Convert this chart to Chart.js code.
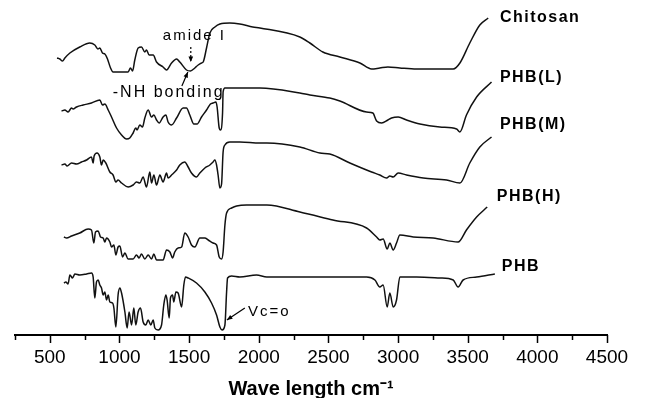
<!DOCTYPE html>
<html>
<head>
<meta charset="utf-8">
<script src="https://cdn.jsdelivr.net/npm/chart.js@4"></script>
<style>
  html, body { margin: 0; padding: 0; background: #fff; }
  #wrap { width: 645px; height: 398px; }
</style>
</head>
<body>
<div id="wrap"><canvas id="Chart"></canvas></div>
<script>
// * FTIR spectra, wavenumber (cm-1) vs offset transmittance (a.u.)

// * Chitosan
const chitosanWave = [552, 572, 591, 608, 644, 715, 787, 823, 845, 859, 878, 895, 914, 936, 954, 1003, 1062, 1079, 1094, 1110, 1134, 1158, 1182, 1194, 1213, 1242, 1266, 1313, 1338, 1374, 1410, 1433, 1481, 1510, 1541, 1565, 1589, 1601, 1625, 1649, 1685, 1721, 1792, 1864, 1957, 2008, 2295, 2367, 2460, 2582, 2726, 2810, 2869, 2927, 3013, 3133, 3396, 3444, 3515, 3587, 3647]
const chitosanT = [277, 276, 274, 277, 282, 288, 292, 290, 286, 287, 282, 281, 276, 267, 263, 263, 263, 267, 264, 275, 287, 288, 283, 285, 280, 280, 273, 268, 265, 272, 276, 273, 265, 264, 267, 270, 272, 273, 287, 302, 308, 311, 312, 311, 308, 307, 298, 292, 283, 278, 272, 266, 267, 268, 267, 266, 266, 272, 292, 310, 317]

// * PHB(L)
const phbLWave = [584, 608, 631, 656, 667, 692, 739, 799, 859, 878, 895, 919, 943, 979, 1015, 1051, 1074, 1098, 1117, 1126, 1146, 1165, 1182, 1206, 1230, 1247, 1266, 1285, 1313, 1333, 1349, 1374, 1410, 1457, 1481, 1505, 1534, 1557, 1589, 1625, 1653, 1672, 1692, 1701, 1716, 1726, 1740, 1744, 1757, 1864, 2008, 2295, 2367, 2510, 2582, 2774, 2819, 2846, 2882, 2927, 2953, 3001, 3061, 3157, 3300, 3420, 3444, 3491, 3564, 3671]
const phbLT = [224, 225, 223, 227, 226, 228, 230, 232, 235, 230, 231, 225, 218, 207, 200, 196, 197, 202, 207, 205, 210, 208, 217, 225, 218, 220, 215, 212, 218, 220, 213, 210, 217, 227, 227, 220, 211, 211, 218, 225, 231, 232, 233, 228, 207, 205, 222, 243, 247, 247, 247, 242, 240, 237, 234, 223, 222, 214, 212, 215, 217, 218, 215, 211, 208, 206, 203, 220, 238, 253]

// * PHB(M)
const phbMWave = [584, 608, 624, 656, 692, 728, 764, 799, 811, 818, 839, 859, 871, 883, 902, 931, 954, 974, 990, 1015, 1062, 1098, 1122, 1146, 1170, 1194, 1218, 1230, 1247, 1266, 1290, 1313, 1338, 1349, 1374, 1410, 1433, 1469, 1493, 1517, 1553, 1577, 1613, 1649, 1672, 1685, 1697, 1708, 1721, 1733, 1744, 1757, 1792, 1864, 2008, 2058, 2295, 2439, 2510, 2654, 2810, 2869, 2918, 2941, 2965, 3001, 3061, 3181, 3348, 3444, 3515, 3587, 3671]
const phbMT = [170, 171, 169, 172, 171, 173, 175, 178, 172, 179, 182, 178, 170, 175, 172, 163, 160, 153, 155, 152, 148, 150, 153, 152, 158, 148, 163, 152, 160, 150, 160, 153, 162, 157, 160, 165, 170, 173, 168, 162, 158, 162, 167, 170, 173, 175, 170, 160, 147, 151, 183, 190, 193, 193, 192, 192, 188, 182, 181, 172, 163, 160, 157, 159, 158, 162, 160, 157, 155, 152, 172, 188, 198]

// * PHB(H)
const phbHWave = [601, 620, 656, 715, 775, 799, 816, 828, 847, 864, 883, 895, 907, 931, 943, 960, 974, 990, 1003, 1022, 1039, 1062, 1098, 1122, 1141, 1158, 1182, 1206, 1230, 1247, 1266, 1313, 1338, 1362, 1381, 1397, 1421, 1446, 1469, 1493, 1517, 1541, 1577, 1613, 1637, 1672, 1697, 1716, 1733, 1744, 1757, 1769, 1805, 1841, 1912, 2008, 2058, 2295, 2532, 2774, 2846, 2869, 2893, 2922, 2941, 2965, 2989, 3013, 3109, 3252, 3431, 3491, 3564, 3640]
const phbHT = [98, 97, 99, 102, 106, 105, 92, 103, 104, 98, 97, 93, 97, 93, 88, 90, 80, 88, 89, 78, 82, 76, 76, 80, 77, 81, 76, 80, 76, 81, 75, 75, 85, 83, 77, 83, 87, 88, 102, 98, 90, 88, 97, 97, 95, 92, 90, 78, 76, 83, 110, 122, 127, 129, 130, 130, 130, 123, 115, 107, 98, 95, 96, 86, 92, 85, 92, 100, 98, 97, 93, 105, 118, 128]

// * PHB
const phbWave = [601, 615, 631, 644, 663, 680, 715, 764, 799, 811, 823, 835, 847, 859, 871, 883, 895, 907, 919, 931, 950, 960, 974, 990, 1003, 1015, 1039, 1055, 1069, 1087, 1103, 1117, 1134, 1151, 1170, 1189, 1206, 1225, 1242, 1254, 1277, 1302, 1318, 1333, 1342, 1357, 1366, 1381, 1390, 1405, 1421, 1446, 1462, 1474, 1493, 1553, 1613, 1661, 1697, 1721, 1737, 1757, 1769, 1776, 1805, 1864, 1984, 2058, 2295, 2774, 2834, 2869, 2893, 2922, 2941, 2965, 2989, 3013, 3133, 3300, 3396, 3431, 3467, 3564, 3695]
const phbT = [52, 53, 51, 60, 57, 61, 60, 61, 62, 58, 37, 53, 55, 50, 47, 40, 43, 35, 40, 33, 32, 27, 8, 40, 47, 42, 23, 7, 23, 10, 27, 10, 23, 27, 13, 10, 15, 10, 15, 7, 5, 10, 30, 40, 35, 17, 37, 40, 33, 43, 42, 28, 50, 58, 57, 52, 43, 32, 20, 8, 5, 10, 43, 57, 59, 58, 60, 58, 58, 58, 55, 48, 50, 28, 42, 28, 35, 58, 58, 57, 55, 48, 55, 58, 61]

// * Tick labels on the wavenumber axis
const waveTicks = [500, 1000, 1500, 2000, 2500, 3000, 3500, 4000, 4500]

// * Text beside the curves (wavenumber, transmittance)
const curveLabels = [
    { text: 'Chitosan', x: 3731, y: 317 },
    { text: 'PHB(L)', x: 3731, y: 257 },
    { text: 'PHB(M)', x: 3731, y: 210 },
    { text: 'PHB(H)', x: 3709, y: 138 },
    { text: 'PHB', x: 3745, y: 68 },
]

const notes = [
    { text: 'amide I', x: 1311, y: 299, size: 15, from: [1512, 288], to: [1512, 273], dash: true },
    { text: '-NH bonding', x: 952, y: 242, size: 16, from: [1448, 249], to: [1491, 263], dash: false },
    { text: 'Vc=o', x: 1922, y: 23, size: 15, from: [1900, 27], to: [1771, 15], dash: false },
]

const toPoints = (xs, ys) => xs.map((x, i) => ({ x: x, y: ys[i] }))

const lineStyle = {
    borderColor: '#111',
    borderWidth: 1.5,
    pointRadius: 0,
    fill: false,
    cubicInterpolationMode: 'monotone',
}

const data = {
    datasets: [
        { label: 'Chitosan', data: toPoints(chitosanWave, chitosanT), ...lineStyle },
        { label: 'PHB(L)', data: toPoints(phbLWave, phbLT), ...lineStyle },
        { label: 'PHB(M)', data: toPoints(phbMWave, phbMT), ...lineStyle },
        { label: 'PHB(H)', data: toPoints(phbHWave, phbHT), ...lineStyle },
        { label: 'PHB', data: toPoints(phbWave, phbT), ...lineStyle },
    ],
}

// * Plugin: minor / major ticks, curve names and notes
const decor = {
    id: 'decor',
    afterDraw(chart) {
        const { ctx, chartArea, scales: { x, y } } = chart
        ctx.save()
        ctx.strokeStyle = '#000'
        ctx.lineWidth = 1.5
        x.ticks.forEach(t => {
            const px = Math.round(x.getPixelForValue(t.value)) + 0.5
            const len = waveTicks.includes(t.value) ? 8 : 5
            ctx.beginPath()
            ctx.moveTo(px, chartArea.bottom)
            ctx.lineTo(px, chartArea.bottom + len)
            ctx.stroke()
        })

        ctx.fillStyle = '#000'
        ctx.textBaseline = 'middle'
        ctx.textAlign = 'left'
        ctx.font = 'bold 16px "Liberation Sans", Arial, sans-serif'
        ctx.letterSpacing = '1.5px'
        curveLabels.forEach(l => {
            ctx.fillText(l.text, x.getPixelForValue(l.x), y.getPixelForValue(l.y))
        })

        ctx.letterSpacing = '2px'
        notes.forEach(n => {
            ctx.font = n.size + 'px "Liberation Sans", Arial, sans-serif'
            ctx.fillText(n.text, x.getPixelForValue(n.x), y.getPixelForValue(n.y))
            const x0 = x.getPixelForValue(n.from[0]), y0 = y.getPixelForValue(n.from[1])
            const x1 = x.getPixelForValue(n.to[0]), y1 = y.getPixelForValue(n.to[1])
            ctx.lineWidth = 1.2
            ctx.setLineDash(n.dash ? [2, 2] : [])
            ctx.beginPath()
            ctx.moveTo(x0, y0)
            ctx.lineTo(x1, y1)
            ctx.stroke()
            ctx.setLineDash([])
            // arrow head
            const a = Math.atan2(y1 - y0, x1 - x0)
            ctx.beginPath()
            ctx.moveTo(x1, y1)
            ctx.lineTo(x1 - 6 * Math.cos(a - 0.4), y1 - 6 * Math.sin(a - 0.4))
            ctx.lineTo(x1 - 6 * Math.cos(a + 0.4), y1 - 6 * Math.sin(a + 0.4))
            ctx.closePath()
            ctx.fill()
        })
        ctx.restore()
    }
}

const config = {
    type: 'line',
    data,
    options: {
        responsive: true,
        maintainAspectRatio: false,
        animation: false,
        layout: { padding: { left: 15, right: 38, top: 0, bottom: 0 } },
        plugins: {
            legend: { display: false },
            tooltip: { enabled: false },
        },
        scales: {
            x: {
                type: 'linear',
                min: 250,
                max: 4500,
                border: { display: true, color: '#000', width: 2 },
                grid: { display: true, drawOnChartArea: false, drawTicks: true, tickLength: 8, color: 'rgba(0,0,0,0)' },
                ticks: {
                    stepSize: 250,
                    autoSkip: false,
                    maxRotation: 0,
                    padding: 3,
                    color: '#000',
                    font: { family: '"Liberation Sans", Arial, sans-serif', size: 19 },
                    callback: v => waveTicks.includes(v) ? String(v) : '',
                },
                title: {
                    display: true,
                    text: 'Wave length cm⁻¹',
                    color: '#000',
                    padding: { top: 0, bottom: 0 },
                    font: { family: '"Liberation Sans", Arial, sans-serif', size: 20, weight: 'bold', lineHeight: 0.85 },
                },
                afterFit: s => { s.height = 63 },
            },
            y: {
                display: false,
                min: 0,
                max: 335,
            },
        },
    },
    plugins: [decor],
}

const ftirChart = new Chart(document.getElementById('Chart'), config)
</script>
</body>
</html>
